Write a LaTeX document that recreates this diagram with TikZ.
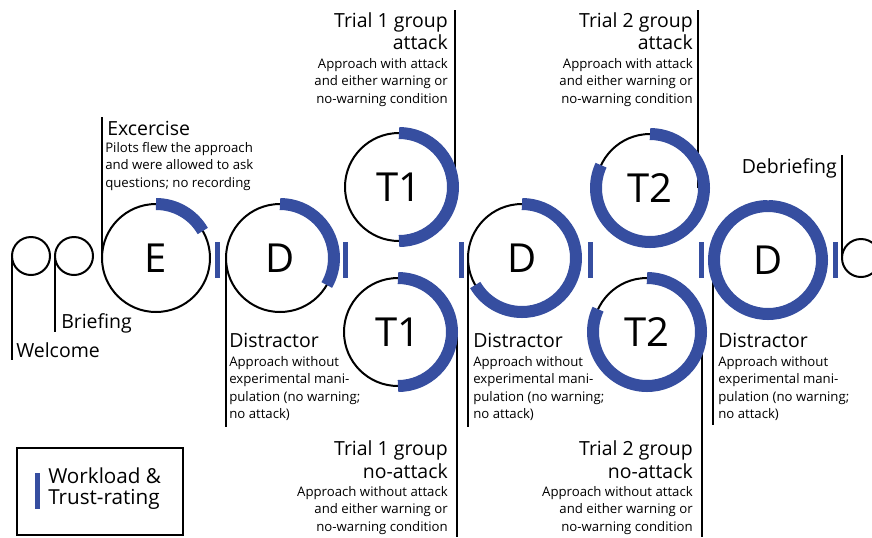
\documentclass[tikz,border=0pt]{standalone}
\usepackage{fontspec}
\setmainfont{Open Sans}
\usetikzlibrary{positioning}
\definecolor{wlblue}{RGB}{54,78,160}
\tikzset{
  stage/.style={circle,draw,line width=1.5pt,minimum size=81pt,inner sep=0pt,outer sep=0pt,font=\fontsize{30}{30}\selectfont},
  dot/.style={circle,draw,line width=1.5pt,minimum size=28.5pt,inner sep=0pt,outer sep=0pt},
  lead/.style={line width=1.5pt},
  wl/.style={wlblue,line width=9pt},
  wltick/.style={wlblue,line width=3.75pt},
  ttl/.style={font=\fontsize{14.6}{17.2}\selectfont,inner sep=0pt},
  txt/.style={font=\fontsize{9.9}{13.1}\selectfont,inner sep=0pt},
}
\newcommand{\wlarc}[2]{\draw[wl] (#1.90) arc[start angle=90,end angle=#2,radius=40.5pt];}
\begin{document}
\begin{tikzpicture}[x=0.75pt,y=0.75pt]
\useasboundingbox (0,0) rectangle (872,-537);
% small circles at both ends
\node[dot] (W) at (31,-256) {};
\node[dot] (B) at (74,-256) {};
\node[dot] (F) at (861,-258) {};
% stages
\node[stage] (E) at (156,-258) {E};
\node[stage] (D1) at (280,-258) {D};
\node[stage] (T1a) at (399,-187) {T1};
\node[stage] (T1b) at (398,-332) {T1};
\node[stage] (D2) at (522,-258) {D};
\node[stage] (T2a) at (650,-188) {T2};
\node[stage] (T2b) at (647,-332) {T2};
\node[stage] (D3) at (768,-260) {D};
% leaders
\draw[lead] (W.west) -- ++(0,-104);
\draw[lead] (B.west) -- ++(0,-76);
\draw[lead] (E.west) -- ++(0,141);
\draw[lead] (D1.west) -- ++(0,-169);
\draw[lead] ([xshift=1.5pt]T1a.east) -- ++(0,177);
\draw[lead] ([xshift=3.75pt]T1b.east) -- ++(0,-205);
\draw[lead] (D2.west) -- ++(0,-169);
\draw[lead] ([xshift=-4.5pt]T2a.east) -- ++(0,178);
\draw[lead] ([xshift=0.75pt]T2b.east) -- ++(0,-205);
\draw[lead] ([xshift=-0.75pt]D3.west) -- ++(0,-165);
\draw[lead] (F.west) -- ++(0,103);
% workload & trust-rating
\wlarc{E}{30}
\wlarc{D1}{-30}
\wlarc{T1a}{-90}
\wlarc{T1b}{-90}
\wlarc{D2}{-150}
\wlarc{T2a}{-205}
\wlarc{T2b}{-205}
\wlarc{D3}{-270}
\foreach \x in {217,345,461,590,701,835}
  \draw[wltick] (\x,-242) -- (\x,-278);
% labels
\node[ttl,anchor=north west] (welT) at (16,-342) {Welcome};
\node[ttl,anchor=north west] (briT) at (61,-313) {Briefing};
\node[ttl,anchor=north west] (exT) at (107,-121) {Excercise};
\node[txt,anchor=north west,align=left] (exB) at (105,-142) {Pilots flew the approach\\and were allowed to ask\\questions; no recording};
\node[ttl,anchor=north east,align=right] (t1aT) at (448,-12) {Trial 1 group\\attack};
\node[txt,anchor=north east,align=right] (t1aB) at (448,-58) {Approach with attack\\and either warning or\\no-warning condition};
\node[ttl,anchor=north east,align=right] (t2aT) at (693,-12) {Trial 2 group\\attack};
\node[txt,anchor=north east,align=right] (t2aB) at (693,-58) {Approach with attack\\and either warning or\\no-warning condition};
\node[ttl,anchor=north west] (d1T) at (229,-333) {Distractor};
\node[txt,anchor=north west,align=left] (d1B) at (229,-356) {Approach without\\experimental mani-\\pulation (no warning;\\no attack)};
\node[ttl,anchor=north west] (d2T) at (473,-333) {Distractor};
\node[txt,anchor=north west,align=left] (d2B) at (473,-356) {Approach without\\experimental mani-\\pulation (no warning;\\no attack)};
\node[ttl,anchor=north west] (d3T) at (718,-333) {Distractor};
\node[txt,anchor=north west,align=left] (d3B) at (718,-356) {Approach without\\experimental mani-\\pulation (no warning;\\no attack)};
\node[ttl,anchor=north east,align=right] (t1bT) at (448,-440) {Trial 1 group\\no-attack};
\node[txt,anchor=north east,align=right] (t1bB) at (448,-486) {Approach without attack\\and either warning or\\no-warning condition};
\node[ttl,anchor=north east,align=right] (t2bT) at (693,-440) {Trial 2 group\\no-attack};
\node[txt,anchor=north east,align=right] (t2bB) at (693,-486) {Approach without attack\\and either warning or\\no-warning condition};
\node[ttl,anchor=north east] (debT) at (837,-158) {Debriefing};
% legend
\draw[line width=1.1pt] (17,-448) rectangle (183,-535);
\draw[wltick] (37,-473) -- (37,-509);
\node[ttl,anchor=north west,align=left,font=\fontsize{15.5}{15.5}\selectfont] (legT) at (48,-468) {Workload \&\\Trust-rating};
\end{tikzpicture}
\end{document}
